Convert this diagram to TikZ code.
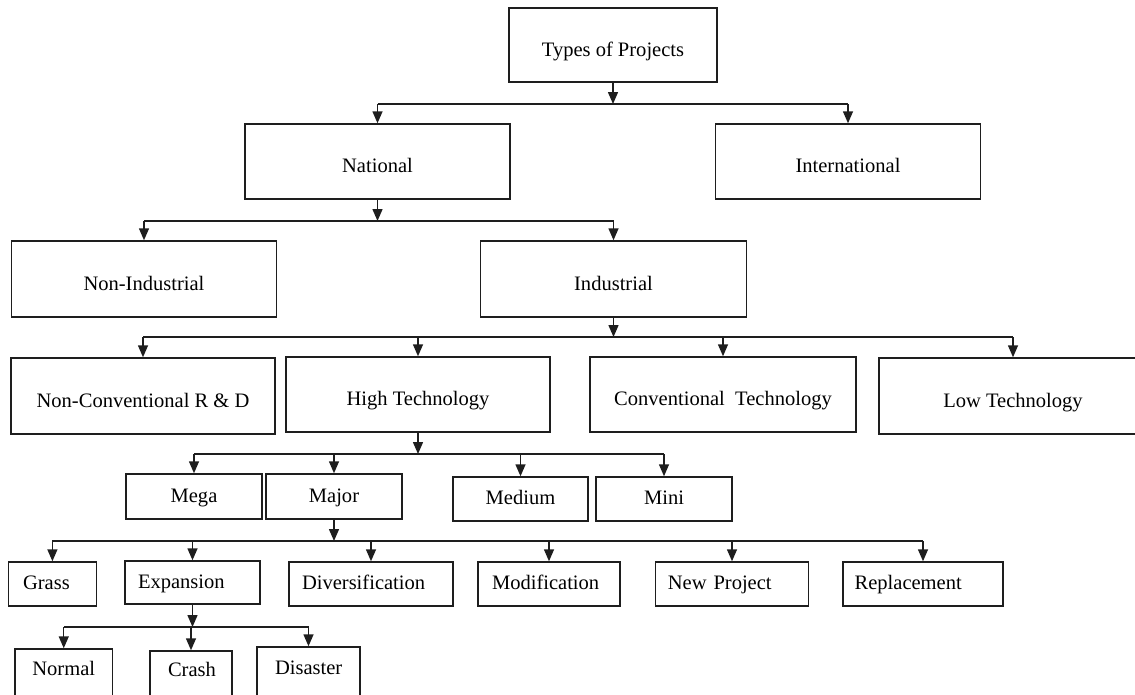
\documentclass[tikz,border=0pt]{standalone}
\usepackage{fontspec}
\setmainfont{Liberation Serif}
\usetikzlibrary{arrows.meta}
\definecolor{ln}{RGB}{30,30,30}
\begin{document}
\begin{tikzpicture}[x=0.75pt,y=-0.75pt,
  font=\fontsize{15.4}{18}\selectfont,
  box/.style={draw=ln, line width=1.1pt, rectangle, inner sep=0pt, align=center},
  big/.style={box, text height=16.5pt, text depth=0pt},
  sm/.style={box, text height=8.25pt, text depth=0pt},
  bot/.style={box, text height=3.75pt, text depth=0pt},
  wh/.style 2 args={minimum width=#1, minimum height=#2},
  lt/.style={text width=#1, align=left},
  con/.style={draw=ln, line width=1.1pt},
  arr/.style={con, -{Triangle[length=9pt,width=7.5pt]}},
]
\useasboundingbox (0,0) rectangle (1135,694);
\clip (0,0) rectangle (1135,694);
% level 0-1
\node[big, wh={156pt}{55.5pt}] (types) at (613,45) {Types of Projects};
\node[big, wh={198.75pt}{56.25pt}] (nat) at (377.5,161.5) {National};
\node[big, wh={198.75pt}{56.25pt}] (intl) at (848,161.5) {International};
% level 2
\node[big, wh={198.75pt}{57pt}] (nonind) at (144,279) {Non-Industrial};
\node[big, wh={199.5pt}{57pt}] (ind) at (613.5,279) {Industrial};
% level 3
\node[big, wh={198pt}{57pt}] (nonconv) at (143,396) {Non-Conventional R \& D};
\node[big, wh={198pt}{56.25pt}] (high) at (418,394.5) {High Technology};
\node[big, wh={199.5pt}{56.25pt}] (conv) at (723,394.5) {Conventional\ \ Technology};
\node[big, wh={201pt}{57pt}] (low) at (1013,396) {Low Technology};
% level 4
\node[sm, wh={102pt}{33.75pt}] (mega) at (194,496.5) {Mega};
\node[sm, wh={102pt}{33.75pt}] (major) at (334,496.5) {Major};
\node[sm, wh={101.25pt}{33pt}] (medium) at (520.5,499) {Medium};
\node[sm, wh={102pt}{33pt}] (mini) at (664,499) {Mini};
% level 5
\node[sm, wh={66pt}{33pt}, lt=44pt] (grass) at (52.4,584) {Grass};
\node[sm, wh={101.25pt}{32.25pt}, lt=81.75pt] (exp) at (192.5,582.5) {Expansion};
\node[sm, wh={123pt}{33pt}, lt=103.5pt] (div) at (371,584) {Diversification};
\node[sm, wh={106.5pt}{33pt}, lt=85.5pt] (mod) at (549,584) {Modification};
\node[sm, wh={114.75pt}{33pt}, lt=96.15pt] (newp) at (732,584) {New Project};
\node[sm, wh={120pt}{33pt}, lt=102.6pt] (repl) at (923,584) {Replacement};
% level 6
\node[bot, wh={73.1pt}{36pt}, lt=47.1pt] (normal) at (63.75,673) {Normal};
\node[bot, wh={61.5pt}{34.5pt}, lt=34.5pt] (crash) at (191,674) {Crash};
\node[bot, wh={77.25pt}{37.5pt}, lt=50.25pt] (disaster) at (308.5,672) {Disaster};

% junctions
\coordinate (j1) at (613,104);
\coordinate (j2) at (378,221);
\coordinate (j3) at (614,337);
\coordinate (j4) at (419,454);
\coordinate (j5) at (334,541);
\coordinate (j6) at (193,627);

% types -> national, international
\draw[arr] (types.south) -- (types.south |- j1);
\draw[con] (nat |- j1) -- (intl |- j1);
\foreach \c in {nat,intl} \draw[arr] (\c |- j1) -- (\c.north);
% national -> non-industrial, industrial
\draw[arr] (nat.south) -- (nat.south |- j2);
\draw[con] (nonind |- j2) -- (ind |- j2);
\foreach \c in {nonind,ind} \draw[arr] (\c |- j2) -- (\c.north);
% industrial -> four
\draw[arr] (ind.south) -- (ind.south |- j3);
\draw[con] (nonconv |- j3) -- (low |- j3);
\foreach \c in {nonconv,high,conv,low} \draw[arr] (\c |- j3) -- (\c.north);
% high technology -> four
\draw[arr] (high.south) -- (high.south |- j4);
\draw[con] (mega |- j4) -- (mini |- j4);
\foreach \c in {mega,major,medium,mini} \draw[arr] (\c |- j4) -- (\c.north);
% major -> six
\draw[arr] (major.south) -- (major.south |- j5);
\draw[con] (grass |- j5) -- (repl |- j5);
\foreach \c in {grass,exp,div,mod,newp,repl} \draw[arr] (\c |- j5) -- (\c.north);
% expansion -> three
\draw[arr] (exp.south) -- (exp.south |- j6);
\draw[con] (normal |- j6) -- (disaster |- j6);
\foreach \c in {normal,crash,disaster} \draw[arr] (\c |- j6) -- (\c.north);
\end{tikzpicture}
\end{document}
